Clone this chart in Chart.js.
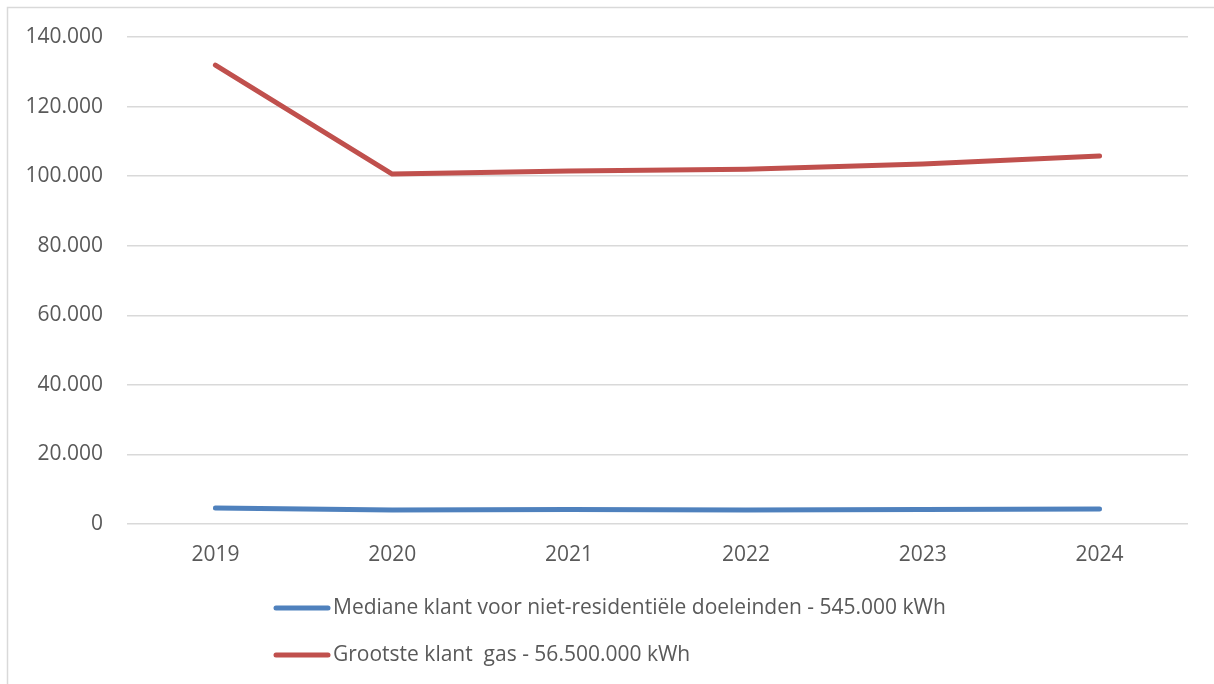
<!DOCTYPE html>
<html>
<head>
<meta charset="utf-8">
<script src="https://cdn.jsdelivr.net/npm/chart.js@4"></script>
<style>
  html, body { margin: 0; padding: 0; background: #ffffff; }
  #wrap { width: 1214px; height: 684px; position: relative; }
</style>
</head>
<body>
<div id="wrap"><canvas id="c" width="1214" height="684"></canvas></div>
<script>
const years = ['2019', '2020', '2021', '2022', '2023', '2024'];
const medianeLabel = 'Mediane klant voor niet-residentiële doeleinden - 545.000 kWh';
const medianeValues = [4600, 4050, 4150, 4050, 4200, 4300];
const grootsteLabel = 'Grootste klant  gas - 56.500.000 kWh';
const grootsteValues = [131900, 100600, 101500, 102000, 103500, 105800];
const yMin = 0, yMax = 140000, yStep = 20000;

const TEXT = '#595959';
const FONT = "'Open Sans', 'DejaVu Sans', sans-serif";

const framePlugin = {
  id: 'frame',
  beforeDraw(chart) {
    const ctx = chart.ctx;
    ctx.save();
    ctx.fillStyle = '#ffffff';
    ctx.fillRect(0, 0, chart.width, chart.height);
    ctx.strokeStyle = '#d9d9d9';
    ctx.lineWidth = 1.5;
    ctx.strokeRect(7.5, 7.5, 1400, 1400);
    ctx.restore();
  }
};

const legendPlugin = {
  id: 'colLegend',
  afterDraw(chart) {
    const ctx = chart.ctx;
    const rows = [608, 655];
    ctx.save();
    chart.data.datasets.forEach((ds, i) => {
      const y = rows[i];
      ctx.strokeStyle = ds.borderColor;
      ctx.lineWidth = 5;
      ctx.lineCap = 'round';
      ctx.beginPath();
      ctx.moveTo(276, y);
      ctx.lineTo(328, y);
      ctx.stroke();
      ctx.fillStyle = TEXT;
      ctx.font = "21px " + FONT;
      ctx.textBaseline = 'middle';
      ctx.textAlign = 'left';
      ctx.fillText(ds.label, 333, y);
    });
    ctx.restore();
  }
};

new Chart(document.getElementById('c'), {
  type: 'line',
  data: {
    labels: years,
    datasets: [
      { label: medianeLabel, data: medianeValues, borderColor: '#4F81BD', backgroundColor: '#4F81BD',
        borderWidth: 5, borderCapStyle: 'round', borderJoinStyle: 'round', pointRadius: 0, tension: 0 },
      { label: grootsteLabel, data: grootsteValues, borderColor: '#C0504D', backgroundColor: '#C0504D',
        borderWidth: 5, borderCapStyle: 'round', borderJoinStyle: 'round', pointRadius: 0, tension: 0 }
    ]
  },
  options: {
    responsive: false,
    animation: false,
    layout: { padding: { left: 0, right: 26, top: 37, bottom: 110 } },
    plugins: { legend: { display: false }, tooltip: { enabled: false } },
    scales: {
      x: {
        offset: true,
        grid: { display: false, drawTicks: false },
        border: { display: false },
        ticks: { color: TEXT, font: { family: FONT, size: 21 }, padding: 18, maxRotation: 0 },
        afterFit(scale) { scale.height = 50; }
      },
      y: {
        min: yMin, max: yMax,
        grid: { color: '#d9d9d9', lineWidth: 1.5, drawTicks: false },
        border: { display: false },
        ticks: {
          stepSize: yStep, color: TEXT, font: { family: FONT, size: 21 }, padding: 24,
          callback: (v) => v === 0 ? '0' : v.toLocaleString('nl-NL')
        },
        afterFit(scale) { scale.width = 127; }
      }
    }
  },
  plugins: [framePlugin, legendPlugin]
});
</script>
</body>
</html>
